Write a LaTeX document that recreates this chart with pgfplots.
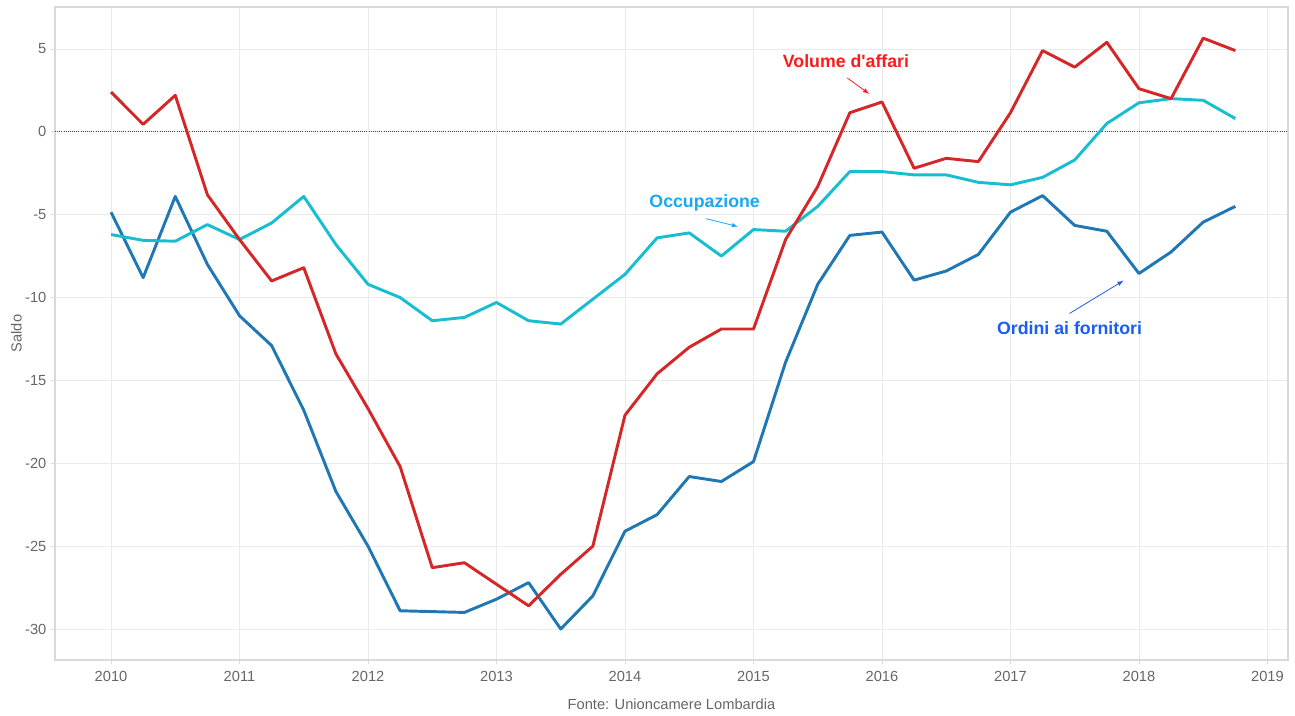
\documentclass[border=0pt]{standalone}
\usepackage{pgfplots}
\pgfplotsset{compat=1.18}
\usepackage{fontspec}
\setmainfont{Liberation Sans}
\definecolor{cred}{HTML}{D62728}
\definecolor{ccyan}{HTML}{17BECF}
\definecolor{cblue}{HTML}{1F77B4}
\definecolor{tred}{HTML}{FF1A1A}
\definecolor{tcyan}{HTML}{1AA7F5}
\definecolor{tblue}{HTML}{1A5CF5}
\definecolor{tickgray}{HTML}{666666}
\definecolor{gridgray}{HTML}{EBEBEB}
\definecolor{framegray}{HTML}{D9D9D9}
\pgfplotstableread{
x v o b
2010.00 2.4 -6.2 -4.85
2010.25 0.45 -6.55 -8.8
2010.50 2.2 -6.6 -3.9
2010.75 -3.8 -5.6 -8.0
2011.00 -6.5 -6.5 -11.1
2011.25 -9.0 -5.5 -12.9
2011.50 -8.2 -3.9 -16.8
2011.75 -13.4 -6.8 -21.7
2012.00 -16.7 -9.2 -25.0
2012.25 -20.2 -10.0 -28.9
2012.50 -26.3 -11.4 -28.95
2012.75 -26.0 -11.2 -29.0
2013.00 -27.3 -10.3 -28.2
2013.25 -28.6 -11.4 -27.2
2013.50 -26.7 -11.6 -30.0
2013.75 -25.0 -10.1 -28.0
2014.00 -17.1 -8.6 -24.1
2014.25 -14.6 -6.4 -23.1
2014.50 -13.0 -6.1 -20.8
2014.75 -11.9 -7.5 -21.1
2015.00 -11.9 -5.9 -19.9
2015.25 -6.5 -6.0 -13.9
2015.50 -3.3 -4.5 -9.2
2015.75 1.15 -2.4 -6.25
2016.00 1.8 -2.4 -6.05
2016.25 -2.2 -2.6 -8.95
2016.50 -1.6 -2.6 -8.4
2016.75 -1.8 -3.05 -7.4
2017.00 1.15 -3.2 -4.85
2017.25 4.9 -2.75 -3.85
2017.50 3.9 -1.7 -5.65
2017.75 5.4 0.5 -6.0
2018.00 2.6 1.75 -8.55
2018.25 2.0 2.0 -7.25
2018.50 5.65 1.9 -5.45
2018.75 4.9 0.8 -4.5
}\datatable
\begin{document}
\begin{tikzpicture}
\begin{axis}[
  name=ax,
  scale only axis,
  width=924.75pt, height=489.75pt,
  xmin=2009.564, xmax=2019.16,
  ymin=-31.87, ymax=7.53,
  xtick={2010,2011,...,2019},
  ytick={-30,-25,...,5},
  minor x tick num=11,
  xticklabel style={/pgf/number format/1000 sep={}, yshift=-2pt},
  /pgf/number format/assume math mode=true,
  ticklabel style={font=\fontsize{11pt}{13pt}\selectfont, text=tickgray},
  xmajorgrids, ymajorgrids,
  grid style={gridgray, line width=0.6pt},
  axis line style={framegray, line width=0.8pt},
  tick style={framegray, line width=0.6pt},
  major tick length=3pt, minor tick length=1.5pt,
  xtick pos=bottom, ytick pos=left,
  tick align=outside,
  ylabel={Saldo},
  ylabel style={font=\fontsize{11pt}{13pt}\selectfont, text=tickgray, at={(axis description cs:-0.0314,0.5)}, anchor=center},
  xlabel={Fonte: Unioncamere Lombardia},
  xlabel style={font=\fontsize{11pt}{13pt}\selectfont, text=tickgray, yshift=-6pt},
  clip=false,
]
\addplot[black!70, densely dotted, line width=0.6pt, forget plot] coordinates {(2009.564,0) (2019.16,0)};
\addplot[cblue, line width=2.2pt, line join=round] table[x=x, y=b] {\datatable};
\addplot[ccyan, line width=2.2pt, line join=round] table[x=x, y=o] {\datatable};
\addplot[cred, line width=2.2pt, line join=round] table[x=x, y=v] {\datatable};
\node[font=\bfseries\fontsize{13.3pt}{15pt}\selectfont, text=tred] at (axis cs:2015.72,4.28) {Volume d\textquotesingle affari};
\draw[tred, -latex, line width=0.6pt] (axis cs:2015.73,3.25) -- (axis cs:2015.90,2.29);
\node[font=\bfseries\fontsize{13.3pt}{15pt}\selectfont, text=tcyan] at (axis cs:2014.62,-4.28) {Occupazione};
\draw[tcyan, -latex, line width=0.6pt] (axis cs:2014.63,-5.24) -- (axis cs:2014.88,-5.72);
\node[font=\bfseries\fontsize{13.3pt}{15pt}\selectfont, text=tblue] at (axis cs:2017.46,-11.87) {Ordini ai fornitori};
\draw[tblue, -latex, line width=0.6pt] (axis cs:2017.46,-10.96) -- (axis cs:2017.88,-8.98);
\end{axis}
\pgfresetboundingbox
\path ([shift={(-41.25pt,-41.25pt)}]ax.south west) rectangle ([shift={(5.25pt,5.25pt)}]ax.north east);
\end{tikzpicture}
\end{document}
